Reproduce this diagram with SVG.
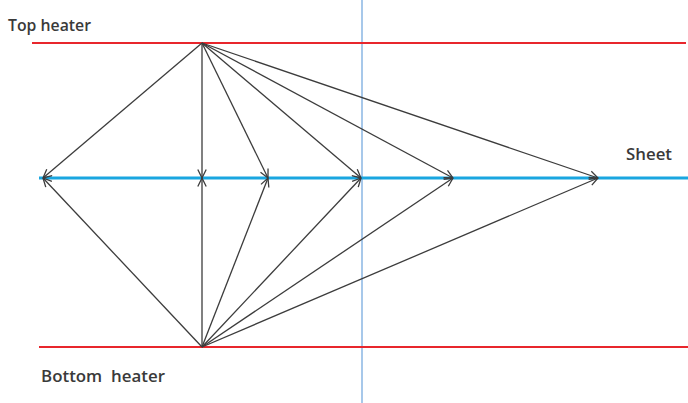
<svg xmlns="http://www.w3.org/2000/svg" width="688" height="403" viewBox="0 0 688 403">
<style>
.lbl{font-family:"Open Sans","Liberation Sans",sans-serif;font-size:16px;fill:#3a3a3a;font-weight:600}
.heater{stroke:#e8262c;stroke-width:2.2}
.sheet{stroke:#19a6e0;stroke-width:3}
.ray{stroke:#3c3c3c;stroke-width:1.3;fill:none;marker-end:url(#ah)}
</style>
<defs>
<marker id="ah" markerUnits="userSpaceOnUse" viewBox="0 0 10 10" refX="9.5" refY="5" markerWidth="10" markerHeight="10" orient="auto">
<path d="M1,0.8 L9.5,5 L1,9.2" fill="none" stroke="#3c3c3c" stroke-width="1.3"/>
</marker>
</defs>
<g id="vertical-line"><line x1="362" y1="0" x2="362" y2="403" stroke="#a7c8ea" stroke-width="2"/></g>
<g id="top-heater">
<line class="heater" x1="32" y1="43" x2="686" y2="43"/>
<text class="lbl" x="8" y="31" textLength="83" lengthAdjust="spacingAndGlyphs">Top heater</text>
</g>
<g id="bottom-heater">
<line class="heater" x1="39" y1="347" x2="688" y2="347"/>
<text class="lbl" x="41" y="382" textLength="124" lengthAdjust="spacingAndGlyphs" xml:space="preserve">Bottom  heater</text>
</g>
<g id="sheet">
<line class="sheet" x1="39" y1="178" x2="688" y2="178"/>
<text class="lbl" x="626" y="160" textLength="46" lengthAdjust="spacingAndGlyphs">Sheet</text>
</g>
<g id="connectors">
<line class="ray" x1="202" y1="43" x2="43" y2="178"/>
<line class="ray" x1="202" y1="43" x2="202" y2="178"/>
<line class="ray" x1="202" y1="43" x2="268" y2="178"/>
<line class="ray" x1="202" y1="43" x2="361" y2="178"/>
<line class="ray" x1="202" y1="43" x2="453" y2="178"/>
<line class="ray" x1="202" y1="43" x2="598" y2="178"/>
<line class="ray" x1="202" y1="347" x2="43" y2="178"/>
<line class="ray" x1="202" y1="347" x2="202" y2="178"/>
<line class="ray" x1="202" y1="347" x2="268" y2="178"/>
<line class="ray" x1="202" y1="347" x2="361" y2="178"/>
<line class="ray" x1="202" y1="347" x2="453" y2="178"/>
<line class="ray" x1="202" y1="347" x2="598" y2="178"/>
</g>
</svg>
